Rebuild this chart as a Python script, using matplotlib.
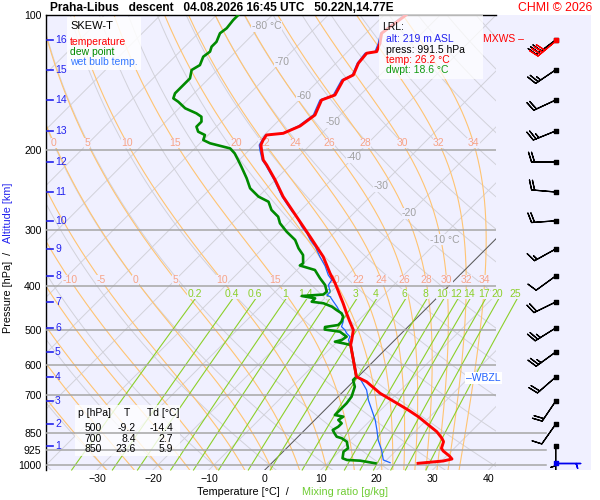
import numpy as np
import matplotlib
matplotlib.use("Agg")
import matplotlib.pyplot as plt
import matplotlib.transforms as mtransforms
from matplotlib.patches import Rectangle
from matplotlib.ticker import NullLocator

plt.rcParams['font.family'] = ['Liberation Sans', 'DejaVu Sans']

# sounding: pressure [hPa], temperature [degC]
p_temp = [991.5, 979.7, 969.8, 955.0, 930.9, 918.0, 887.6, 872.3, 843.3, 814.7,
          780.9, 754.6, 729.2, 692.9, 653.0, 636.5, 541.2, 527.6, 506.4, 501.2,
          480.4, 460.1, 437.2, 412.0, 394.7, 375.0, 344.4, 311.0, 273.6, 253.3,
          232.6, 215.4, 210.0, 199.5, 194.5, 189.6, 184.8, 183.2, 176.5, 166.8,
          154.5, 150.6, 139.5, 135.9, 128.0, 121.6, 120.6, 115.6, 109.8, 100.0]
t_temp = [26.2, 30.3, 31.5, 30.5, 28.5, 27.7, 26.9, 26.0, 23.9, 21.2,
          17.9, 14.9, 11.7, 6.9, 2.4, -0.3, -7.0, -7.7, -8.9, -9.2,
          -11.3, -13.4, -15.8, -18.7, -20.8, -23.5, -27.7, -33.6, -41.1, -45.6,
          -50.0, -54.2, -55.7, -57.8, -58.8, -59.3, -59.6, -56.9, -55.2, -54.5,
          -56.0, -54.5, -55.7, -54.8, -56.0, -56.3, -54.8, -55.7, -57.2, -56.1]

p_dwpt = [991.5, 978.2, 974.7, 966.2, 934.2, 918.1, 887.6, 872.3, 865.2, 850.3,
          836.2, 822.2, 808.0, 794.3, 780.9, 774.3, 754.6, 729.2, 705.0, 669.9,
          647.5, 636.5, 541.2, 536.6, 532.1, 527.6, 518.7, 505.6, 500.0, 493.6,
          488.6, 480.4, 468.2, 460.1, 452.4, 444.8, 437.2, 433.7, 426.2, 421.2,
          418.0, 412.0, 398.1, 384.7, 368.7, 360.3, 356.3, 341.5, 330.0, 316.2,
          303.1, 290.3, 280.7, 271.2, 260.0, 253.3, 242.7, 230.6, 217.4, 210.0,
          203.0, 197.9, 192.8, 189.6, 184.8, 181.7, 177.1, 172.6, 168.3, 165.4,
          161.2, 155.9, 153.2, 149.3, 144.3, 138.3, 132.5, 129.2, 123.8, 120.6,
          117.6, 114.7, 109.8, 107.0, 102.6, 100.0]
t_dwpt = [18.6, 15.4, 12.9, 11.8, 10.8, 11.0, 9.6, 8.1, 6.9, 5.9,
          5.0, 5.4, 5.4, 4.2, 4.5, 2.7, 2.7, 2.7, 2.4, 1.2,
          -0.3, -0.3, -7.0, -8.6, -10.4, -9.5, -9.2, -11.3, -14.4, -14.8,
          -12.8, -12.8, -13.4, -14.3, -15.8, -17.2, -19.3, -21.7, -21.7, -24.5,
          -20.9, -20.8, -22.3, -24.4, -26.8, -30.3, -30.1, -31.6, -33.6, -35.7,
          -38.7, -41.4, -42.9, -45.3, -47.3, -50.0, -53.0, -55.4, -58.4, -60.2,
          -62.0, -63.7, -68.2, -70.0, -70.6, -72.4, -73.6, -73.6, -74.5, -76.0,
          -78.9, -81.3, -82.8, -83.4, -83.4, -83.4, -84.6, -84.0, -84.9, -84.6,
          -85.2, -85.2, -86.1, -85.8, -86.1, -86.1]

p_wetb = [988.3, 974.7, 926.1, 879.9, 836.2, 794.3, 754.6, 717.1, 681.3, 647.5,
          636.5, 541.2, 527.6, 518.7, 509.7, 501.2, 492.8, 480.4, 468.2, 456.4,
          444.8, 433.7, 422.7, 419.1, 412.0, 398.1, 388.1, 378.4, 361.2, 344.4,
          327.3, 316.2, 305.6, 295.4, 280.7, 273.6, 253.3, 232.6, 215.4, 210.0,
          199.5, 194.5, 189.6, 184.8, 183.2, 176.5, 166.8, 154.5, 150.6, 139.5,
          135.9, 128.0, 121.6, 120.6, 115.6, 109.8, 100.0]
t_wetb = [21.1, 19.4, 17.3, 14.9, 12.9, 10.8, 8.4, 6.0, 3.9, 1.1,
          -0.3, -7.0, -8.3, -8.6, -9.8, -10.7, -11.9, -12.5, -13.4, -14.9,
          -16.3, -17.8, -19.3, -20.2, -20.2, -21.7, -22.0, -23.5, -25.7, -28.3,
          -30.9, -33.0, -34.8, -36.9, -39.6, -41.3, -45.8, -50.2, -54.4, -55.9,
          -58.1, -59.1, -59.5, -59.8, -57.1, -55.5, -54.8, -56.3, -54.8, -56.0,
          -55.0, -56.2, -56.6, -55.1, -56.0, -57.4, -56.4]

# altitude marks [km] and the pressure where they sit; winds at each km
alt_km = [16, 15, 14, 13, 12, 11, 10, 9, 8, 7, 6, 5, 4, 3, 2, 1]
alt_p = [113.6, 132.4, 154.5, 181.0, 212.1, 247.4, 286.7, 331.1, 380.2, 434.3,
         496.1, 561.0, 637.7, 721.1, 811.3, 908.1]
wind_dir = [233, 236, 245, 248, 270, 275, 266, 241, 234, 244, 238, 234, 229, 214, 215, 180]
wind_kt = [30, 25, 20, 25, 20, 20, 20, 15, 10, 20, 25, 25, 20, 20, 10, 5]
sfc_p, sfc_dir, sfc_kt = 991.5, 90, 5
mxws_p, mxws_dir, mxws_kt = 113.6, 230, 40
wbzl_p = 641

tbl_p = [500, 700, 850]
tbl_t = [-9.2, 8.4, 23.6]
tbl_td = [-14.4, 2.7, 5.9]
lrl_alt, lrl_p, lrl_t, lrl_td = 219, 991.5, 26.2, 18.6

p_levels = [100, 200, 300, 400, 500, 600, 700, 850, 925, 1000]
t_ticks = [-30, -20, -10, 0, 10, 20, 30, 40]
theta_w = [-30, -25, -20, -15, -10, -5, 0, 5, 10, 15, 20, 22, 24, 26, 28, 30, 32, 34]
thw_lab_hi = [0, 5, 10, 15, 20, 22, 24, 26, 28, 30, 32, 34]
thw_lab_lo = [-10, -5, 0, 5, 10, 15, 20, 22, 24, 26, 28, 30, 32, 34]
mix_ratio = [0.2, 0.4, 0.6, 1, 1.4, 2, 3, 4, 6, 8, 10, 12, 14, 17, 20, 25]
iso_lab_t = [-80, -70, -60, -50, -40, -30, -20, -10]
iso_lab_p = [106, 127, 151, 173, 207, 240, 276, 316]

# layout
W, H = 600, 500
X0, X1, Y0, Y1 = 46, 496, 15, 470
XB = 591
P_BOT, P_TOP = 1026.0, 100.0
T_MIN, T_MAX = -39.12, 41.34
BG = '#f0f0ff'
GRID = '#d2d2da'
PLINE = '#a6a6a6'
ORANGE = '#ffc472'
ORANGE_TXT = '#f7a488'
MIXC = '#8cd02a'
ALTC = '#2222ee'
FS = 7.5


def sat_vp(tc):
    return 6.112 * np.exp(17.67 * tc / (tc + 243.5))


def dtdp(T, p):
    e = sat_vp(T - 273.15)
    r = 0.622 * e / (p - e)
    return (287.04 * T + 2.501e6 * r) / (1005.7 + 2.501e6 ** 2 * r * 0.622 / (287.04 * T * T)) / p


def moist_adiabat(thw):
    parts_p, parts_t = [], []
    for p_end in (1060.0, 95.0):
        ps = np.linspace(1000.0, p_end, 300)
        T = thw + 273.15
        ts = [T]
        for a, b in zip(ps[:-1], ps[1:]):
            h = b - a
            k1 = dtdp(T, a)
            k2 = dtdp(T + 0.5 * h * k1, a + 0.5 * h)
            k3 = dtdp(T + 0.5 * h * k2, a + 0.5 * h)
            k4 = dtdp(T + h * k3, b)
            T = T + h * (k1 + 2 * k2 + 2 * k3 + k4) / 6
            ts.append(T)
        parts_p.append(ps)
        parts_t.append(np.array(ts) - 273.15)
    p = np.concatenate([parts_p[0][::-1], parts_p[1][1:]])
    t = np.concatenate([parts_t[0][::-1], parts_t[1][1:]])
    return p, t


def mix_temp(w, p):
    e = w / 1000 * p / (0.622 + w / 1000)
    l = np.log(e / 6.112)
    return 243.5 * l / (17.67 - l)


def axpx(px, py):
    return (px - X0) / (X1 - X0), (Y1 - py) / (Y1 - Y0)


fig = plt.figure(figsize=(W / 100, H / 100), dpi=100)

# wind column (drawn underneath the skew-T axes)
bx = fig.add_axes([X1 / W, 1 - Y1 / H, (XB - X1) / W, (Y1 - Y0) / H])
bx.set_zorder(1)
bx.set_yscale('log')
bx.set_ylim(P_BOT, P_TOP)
bx.set_xlim(0, 1)
bx.set_facecolor(BG)
for s in bx.spines.values():
    s.set_visible(False)
bx.set_xticks([])
bx.set_yticks([])
bx.yaxis.set_minor_locator(NullLocator())
for p in (850, 925, 1000):
    bx.plot([0, 0.53], [p, p], color=PLINE, lw=1.1, zorder=1)

BXX = (555.7 - X1) / (XB - X1)
BL = 5.9
d = np.radians(wind_dir)
spd = np.array(wind_kt, float)
bx.barbs(np.full(len(alt_p), BXX), alt_p, -spd * np.sin(d), -spd * np.cos(d),
         length=BL, lw=0.9, color='black', zorder=3)
bx.scatter(np.full(len(alt_p), BXX), alt_p, marker='s', s=6, color='black', zorder=4)
dm = np.radians(mxws_dir)
bx.barbs([BXX], [mxws_p], [-mxws_kt * np.sin(dm)], [-mxws_kt * np.cos(dm)],
         length=BL, lw=0.9, color='red', zorder=5)
bx.scatter([BXX], [mxws_p], marker='s', s=12, color='red', zorder=6)
ds = np.radians(sfc_dir)
bx.barbs([BXX], [sfc_p], [-sfc_kt * np.sin(ds)], [-sfc_kt * np.cos(ds)],
         length=BL, lw=1.0, color='#0000ee', zorder=5)
bx.scatter([BXX], [sfc_p], marker='s', s=10, color='#0000ee', zorder=6)

ax = fig.add_axes([X0 / W, 1 - Y1 / H, (X1 - X0) / W, (Y1 - Y0) / H])
ax.set_zorder(2)
ax.set_yscale('log')
ax.set_ylim(P_BOT, P_TOP)
ax.set_xlim(T_MIN, T_MAX)
ax.set_facecolor(BG)

shear = (Y1 - Y0) / (X1 - X0)
skew = (ax.transData + ax.transAxes.inverted()
        + mtransforms.Affine2D(np.array([[1, shear, 0], [0, 1, 0], [0, 0, 1.0]]))
        + ax.transAxes)
blend = mtransforms.blended_transform_factory(ax.transAxes, ax.transData)

# background: isotherms, dry adiabats
pp = np.geomspace(1060, 95, 150)
for t in range(-130, 60, 10):
    ax.plot([t, t], [1060, 95], color=GRID, lw=0.7, transform=skew, zorder=1)
for th in range(-40, 260, 10):
    ax.plot((th + 273.15) * (pp / 1000.0) ** 0.2857 - 273.15, pp,
            color=GRID, lw=0.7, transform=skew, zorder=1)
ax.plot([0, 0], [1060, 95], color='#5a5a5a', lw=0.7, transform=skew, zorder=1.2)

for t, p in zip(iso_lab_t, iso_lab_p):
    s = f'{t} °C' if t in (-80, -10) else f'{t}'
    dx = 4 if t in (-80, -10) else 0
    ax.annotate(s, (t, p), xycoords=skew, xytext=(dx, 0), textcoords='offset points',
                ha='center', va='center', fontsize=FS, color='#a0a0a0', zorder=2,
                bbox=dict(fc=BG, ec='none', pad=0.3))

# moist (pseudo) adiabats
for thw in theta_w:
    mp, mt = moist_adiabat(thw)
    ax.plot(mt, mp, color=ORANGE, lw=0.8, transform=skew, zorder=1.1)
    for plab, labs in ((192.5, thw_lab_hi), (388.0, thw_lab_lo)):
        if thw in labs:
            tl = np.interp(plab, mp[::-1], mt[::-1])
            ax.annotate(f'{thw}', (tl, plab), xycoords=skew, ha='center', va='center',
                        fontsize=FS, color=ORANGE_TXT, zorder=2,
                        bbox=dict(fc=BG, ec='none', pad=0.2))

# mixing ratio lines
pm = np.geomspace(P_BOT, 428, 40)
for w in mix_ratio:
    ax.plot(mix_temp(w, pm), pm, color=MIXC, lw=0.8, transform=skew, zorder=1.3,
            clip_on=False)
    ax.annotate(f'{w:g}', (mix_temp(w, 417.0), 417.0), xycoords=skew, xytext=(-3, 0),
                textcoords='offset points', ha='center', va='center', fontsize=FS,
                color=MIXC, zorder=2, bbox=dict(fc=BG, ec='none', pad=0.2))

# pressure lines
for p in p_levels[1:]:
    ax.axhline(p, color=PLINE, lw=1.1, zorder=3)

# profiles
ax.plot(t_wetb, p_wetb, color='#1e64ff', lw=0.9, transform=skew, zorder=4)
ax.plot(t_dwpt, p_dwpt, color='#008a00', lw=1.9, transform=skew, zorder=5)
ax.plot(t_temp, p_temp, color='#ff0000', lw=2.1, transform=skew, zorder=6)

# altitude scale
for km, p in zip(alt_km, alt_p):
    ax.plot([0.002, 0.016], [p, p], color=ALTC, lw=1.2, transform=blend, zorder=8,
            clip_on=False)
    ax.text(0.02, p, str(km), transform=blend, color=ALTC, fontsize=FS,
            va='center', ha='left', zorder=8)

# axes dressing
ax.set_yticks(p_levels)
ax.set_yticklabels([str(p) for p in p_levels])
ax.yaxis.set_minor_locator(NullLocator())
ax.set_xticks(t_ticks)
ax.set_xticklabels([str(t).replace('-', '\u2212') for t in t_ticks])
ax.tick_params(axis='y', length=0, pad=3.2, labelsize=7.6)
ax.tick_params(axis='x', length=0, pad=3.0, labelsize=7.6)
ax.spines['right'].set_visible(False)
ax.spines['bottom'].set_visible(False)
ax.spines['left'].set_linewidth(1.0)
ax.spines['top'].set_linewidth(1.0)

# legend box
ax.add_patch(Rectangle(axpx(67, 70), 74 / 450, 53 / 455, transform=ax.transAxes,
                       fc='white', ec='none', alpha=0.85, zorder=2.6))
for (txt, c, py) in (('SKEW-T', 'black', 26), ('temperature', 'red', 42),
                     ('dew point', '#008a00', 51.7), ('wet bulb temp.', '#3377ff', 61.7)):
    ax.text(*axpx(70, py), txt, transform=ax.transAxes, color=c, fontsize=FS if py > 30 else 8,
            va='center', ha='left', zorder=8)

# LRL box
ax.add_patch(Rectangle(axpx(378.7, 79), 104 / 450, 64 / 455, transform=ax.transAxes,
                       fc='white', ec='none', alpha=0.72, zorder=7))
for (txt, c, px, py) in (('LRL:', 'black', 382.5, 27.5),
                         (f'alt: {lrl_alt} m ASL', '#2222ee', 386, 39.5),
                         (f'press: {lrl_p} hPa', 'black', 386, 50),
                         (f'temp: {lrl_t} °C', 'red', 386, 60.3),
                         (f'dwpt: {lrl_td} °C', '#109a10', 386, 70)):
    ax.text(*axpx(px, py), txt, transform=ax.transAxes, color=c, fontsize=FS,
            va='center', ha='left', zorder=8)

# table box
ax.add_patch(Rectangle(axpx(75, 456), 105 / 450, 51 / 455, transform=ax.transAxes,
                       fc='white', ec='none', alpha=0.8, zorder=2.6))
ax.text(*axpx(78, 413.3), 'p [hPa]', transform=ax.transAxes, fontsize=FS, va='center', zorder=8)
ax.text(*axpx(127, 413.3), 'T', transform=ax.transAxes, fontsize=FS, va='center', ha='center', zorder=8)
ax.text(*axpx(147, 413.3), 'Td [°C]', transform=ax.transAxes, fontsize=FS, va='center', zorder=8)
for i, (p, t, td) in enumerate(zip(tbl_p, tbl_t, tbl_td)):
    py = 428.3 + i * 10.5
    ax.text(*axpx(102, py), f'{p}', transform=ax.transAxes, fontsize=FS, va='center', ha='right', zorder=8)
    ax.text(*axpx(136, py), f'{t}', transform=ax.transAxes, fontsize=FS, va='center', ha='right', zorder=8)
    ax.text(*axpx(173, py), f'{td}', transform=ax.transAxes, fontsize=FS, va='center', ha='right', zorder=8)

ax.text(axpx(466, 0)[0], wbzl_p, '\u2013WBZL', transform=blend, color='#2060ff', fontsize=FS,
        va='center', ha='left', zorder=8, bbox=dict(fc='white', ec='none', pad=1.0))

ax.set_ylim(P_BOT, P_TOP)
ax.set_xlim(T_MIN, T_MAX)

# titles and axis labels
fig.text(50 / W, 1 - 8 / H, 'Praha-Libus   descent   04.08.2026 16:45 UTC   50.22N,14.77E',
         fontweight='bold', fontsize=8.6, va='center', ha='left')
fig.text(592 / W, 1 - 8 / H, 'CHMI © 2026', color='red', fontsize=8.8, va='center', ha='right')
fig.text(483 / W, 1 - 39 / H, 'MXWS \u2013', color='red', fontsize=FS, va='center', ha='left',
         zorder=10)
fig.text(197 / W, 1 - 492 / H, 'Temperature [°C]  /', fontsize=7.8, va='center', ha='left')
fig.text(302 / W, 1 - 492 / H, 'Mixing ratio [g/kg]', fontsize=7.8, color='#6fcc33',
         va='center', ha='left')
fig.text(8 / W, 1 - 333 / H, 'Pressure [hPa]  /', rotation=90, fontsize=7.8,
         va='bottom', ha='center')
fig.text(8 / W, 1 - 243 / H, 'Altitude [km]', rotation=90, fontsize=7.8, color=ALTC,
         va='bottom', ha='center')

fig.savefig('out.png', dpi=100, facecolor='white')
